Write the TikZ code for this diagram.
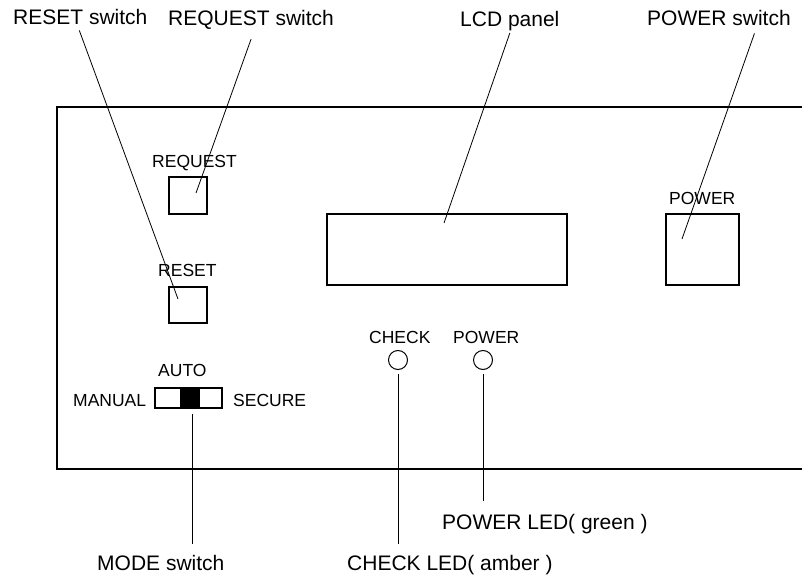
\documentclass[tikz,border=0pt]{standalone}
\usepackage{fontspec}
\setmainfont{Liberation Sans}
\usepackage{tikz}
\usetikzlibrary{positioning, calc}

\begin{document}
\begin{tikzpicture}[
    x=1pt, y=-1pt,
    callout/.style={inner sep=0pt, anchor=base west, font=\fontsize{21}{25}\selectfont},
    legend/.style={inner sep=0pt, anchor=base west, font=\fontsize{17.5}{21}\selectfont},
    button/.style={rectangle, draw, line width=1.2pt, inner sep=0pt, minimum width=38pt, minimum height=37pt},
    led/.style={circle, draw, line width=1pt, inner sep=0pt, minimum size=19pt},
    leader/.style={line width=0.8pt},
]
\useasboundingbox (0,0) rectangle (802,577);

% Front panel frame (runs off to the right)
\draw[line width=2.8pt] (802,107) -- (57,107) -- (57,469) -- (802,469);

% Controls
\node[button] (req) at (188,195.5) {};
\node[button, minimum height=36pt] (rst) at (188,305) {};
\node[rectangle, draw, line width=1.2pt, inner sep=0pt, minimum width=240pt, minimum height=71pt] (lcd) at (447,249.5) {};
\node[rectangle, draw, line width=1.2pt, inner sep=0pt, minimum width=73pt, minimum height=71pt] (pwr) at (702.5,249.5) {};
\node[rectangle, draw, line width=1.2pt, inner sep=0pt, minimum width=67pt, minimum height=20pt] (mode) at (188.5,398) {};
\node[rectangle, fill=black, inner sep=0pt, minimum width=20pt, minimum height=20pt] (slider) at (190,398) {};
\node[led] (chk) at (398,360) {};
\node[led] (pled) at (483,360) {};

% Panel legends
\node[legend] (tReq) at (152,168) {REQUEST};
\node[legend] (tRst) at (158,276) {RESET};
\node[legend] (tPwr) at (669,205) {POWER};
\node[legend] (tAuto) at (158,376) {AUTO};
\node[legend] (tMan) at (73,406) {MANUAL};
\node[legend] (tSec) at (233,406) {SECURE};
\node[legend] (tChk) at (369,343) {CHECK};
\node[legend] (tPled) at (453,343) {POWER};

% Callouts
\node[callout] (cRst) at (13,25) {RESET switch};
\node[callout] (cReq) at (168,26) {REQUEST switch};
\node[callout] (cLcd) at (460,26.5) {LCD panel};
\node[callout] (cPwr) at (647,26) {POWER switch};
\node[callout] (cMode) at (97,570) {MODE switch};
\node[callout] (cPled) at (442,529) {POWER LED( green )};
\node[callout] (cChk) at (347,570) {CHECK LED( amber )};

% Leader tips
\coordinate (kReq) at (196,193);
\coordinate (kRst) at (178,299);
\coordinate (kLcd) at (444,223);
\coordinate (kPwr) at (682,239);

% Leaders
\draw[leader] ([xshift=-1pt, yshift=-5pt]cRst.south) -- (kRst);
\draw[leader] ([yshift=-9pt]cReq.south) -- (kReq);
\draw[leader] ([yshift=-2pt]cLcd.south) -- (kLcd);
\draw[leader] ([xshift=35.5pt, yshift=-7pt]cPwr.south) -- (kPwr);
\draw[leader, shorten <=5pt, shorten >=11pt] ([xshift=3.5pt]mode.south) -- ([xshift=3.5pt]mode.south |- cMode.north);
\draw[leader, shorten <=4pt, shorten >=11pt] (chk.south) -- (chk.south |- cChk.north);
\draw[leader, shorten <=4pt, shorten >=13pt] (pled.south) -- (pled.south |- cPled.north);

\end{tikzpicture}
\end{document}
